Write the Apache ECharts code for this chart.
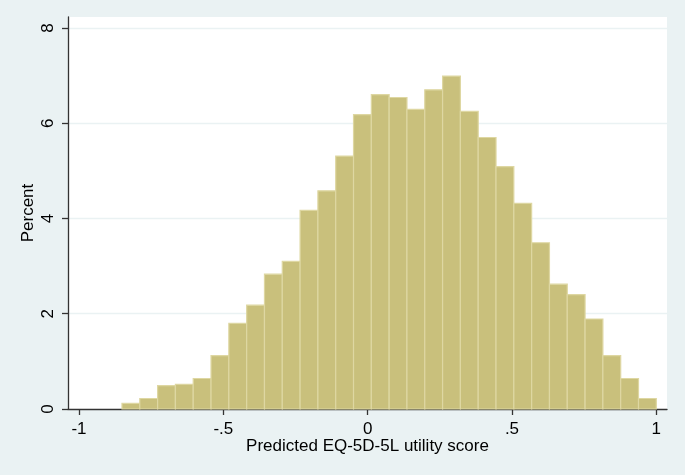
<!DOCTYPE html>
<html>
<head>
<meta charset="utf-8">
<script src="https://cdn.jsdelivr.net/npm/echarts@6/dist/echarts.min.js"></script>
<style>
html,body{margin:0;padding:0;background:#eaf2f3;}
#chart{width:685px;height:475px;}
</style>
</head>
<body>
<div id="chart"></div>
<script>
// Histogram bins: 30 bins starting at binStart with width binWidth
const binStart = -0.851;
const binWidth = 0.0617;
const percents = [0.12, 0.22, 0.49, 0.52, 0.64, 1.12, 1.80, 2.18, 2.83, 3.10,
                  4.17, 4.58, 5.31, 6.18, 6.60, 6.54, 6.29, 6.70, 6.99, 6.25,
                  5.70, 5.09, 4.32, 3.49, 2.62, 2.40, 1.89, 1.12, 0.64, 0.22];
const xTicks = [-1, -0.5, 0, 0.5, 1];
const yTicks = [0, 2, 4, 6, 8];
const xTitle = 'Predicted EQ-5D-5L utility score';
const yTitle = 'Percent';

const barData = percents.map((v, i) => [binStart + i * binWidth, binStart + (i + 1) * binWidth, v]);

function fmt(v) {
  if (v === 0) return '0';
  let s = String(v);
  s = s.replace(/^0\./, '.').replace(/^-0\./, '-.');
  return s;
}

const chart = echarts.init(document.getElementById('chart'), null, {renderer: 'canvas'});
const font = 'Liberation Sans, Arial, sans-serif';
chart.setOption({
  backgroundColor: '#eaf2f3',
  animation: false,
  grid: {left: 68, right: 18, top: 17, bottom: 66, show: true, backgroundColor: '#ffffff', borderWidth: 0},
  xAxis: {
    type: 'value', min: -1.038, max: 1.037,
    name: xTitle, nameLocation: 'middle', nameGap: 29, nameMoveOverlap: false,
    nameTextStyle: {fontFamily: font, fontSize: 17, color: '#000'},
    axisLine: {show: true, onZero: false, lineStyle: {color: '#333', width: 1.3}},
    axisTick: {show: true, length: 6, lineStyle: {color: '#333', width: 1.3}, customValues: xTicks},
    axisLabel: {fontFamily: font, fontSize: 17, color: '#000', margin: 12, customValues: xTicks, formatter: fmt},
    splitLine: {show: false}
  },
  yAxis: {
    type: 'value', min: 0, max: 8.23, interval: 2,
    name: yTitle, nameLocation: 'middle', nameGap: 31, nameMoveOverlap: false,
    nameTextStyle: {fontFamily: font, fontSize: 17, color: '#000'},
    axisLine: {show: true, onZero: false, lineStyle: {color: '#333', width: 1.3}},
    axisTick: {show: true, length: 6, lineStyle: {color: '#333', width: 1.3}, customValues: yTicks},
    axisLabel: {fontFamily: font, fontSize: 17, color: '#000', margin: 11, rotate: 90,
      customValues: yTicks, formatter: fmt},
    splitLine: {show: true, showMinLine: false, showMaxLine: true, lineStyle: {color: '#eaf2f3', width: 1.3}}
  },
  series: [{
    type: 'custom',
    data: barData,
    encode: {x: [0, 1], y: 2},
    renderItem: function (params, api) {
      const p0 = api.coord([api.value(0), 0]);
      const p1 = api.coord([api.value(1), api.value(2)]);
      return {
        type: 'rect',
        shape: {x: p0[0], y: p1[1], width: p1[0] - p0[0], height: p0[1] - p1[1]},
        style: {fill: '#c9c07c', stroke: '#ded7a2', lineWidth: 1.2}
      };
    }
  }]
});
</script>
</body>
</html>
